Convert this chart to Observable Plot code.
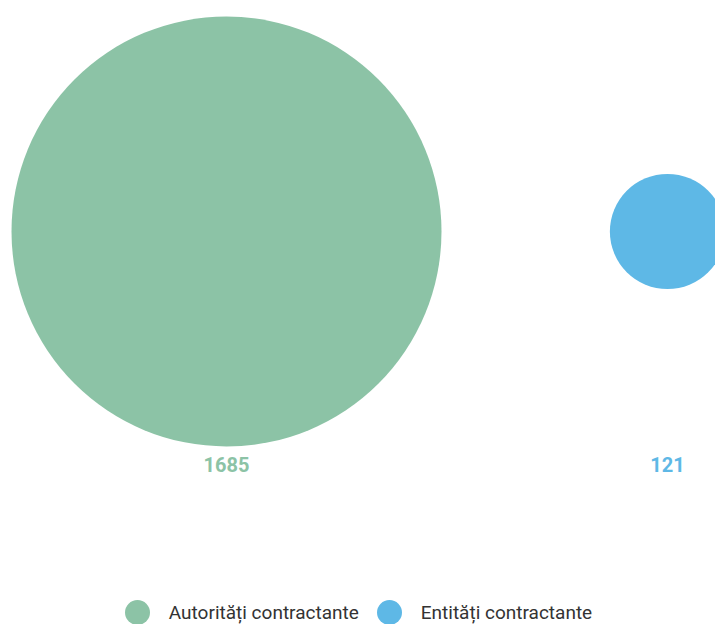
<!DOCTYPE html>
<html>
<head>
<meta charset="utf-8">
<script src="https://cdn.jsdelivr.net/npm/d3@7"></script>
<script src="https://cdn.jsdelivr.net/npm/@observablehq/plot@0.6"></script>
<style>
  html, body { margin: 0; padding: 0; background: #fff; overflow: hidden; }
  body { width: 715px; height: 624px; font-family: Roboto, sans-serif; }
  #legend { position: absolute; left: 0; top: 599px; width: 715px; height: 26px; display: flex; justify-content: center; align-items: center; font-size: 19px; color: #333; font-family: Roboto, sans-serif; padding-left: 2px; box-sizing: border-box; }
  .item { display: flex; align-items: center; margin: 0 9px; }
  .sw { width: 25px; height: 25px; border-radius: 50%; margin-right: 19px; }
</style>
</head>
<body>
<div id="chart"></div>
<div id="legend"></div>
<script>
const categories = ["Autorități contractante", "Entități contractante"];
const values = [1685, 121];
const colors = ["#8cc3a6", "#5eb8e6"];

const data = categories.map((c, i) => ({category: c, value: values[i]}));

const chart = Plot.plot({
  width: 715,
  height: 500,
  margin: 0,
  style: {fontFamily: "Roboto, sans-serif", background: "#fff"},
  x: {type: "point", domain: categories, range: [226, 667.5], padding: 0, axis: null},
  y: {type: "point", domain: ["all"], range: [230.5, 230.5], padding: 0, axis: null},
  r: {domain: [0, 1685], range: [0, 215]},
  color: {domain: categories, range: colors},
  marks: [
    Plot.dot(data, {x: "category", y: () => "all", r: "value", fill: "category", stroke: null}),
    Plot.text(data, {x: "category", y: () => "all", text: d => String(d.value), fill: "category", dy: 234, fontSize: 20, fontWeight: "bold"})
  ]
});
document.getElementById("chart").appendChild(chart);

const legend = document.getElementById("legend");
categories.forEach((c, i) => {
  const item = document.createElement("div");
  item.className = "item";
  const sw = document.createElement("div");
  sw.className = "sw";
  sw.style.background = colors[i];
  const t = document.createElement("span");
  t.textContent = c;
  item.appendChild(sw);
  item.appendChild(t);
  legend.appendChild(item);
});
</script>
</body>
</html>
